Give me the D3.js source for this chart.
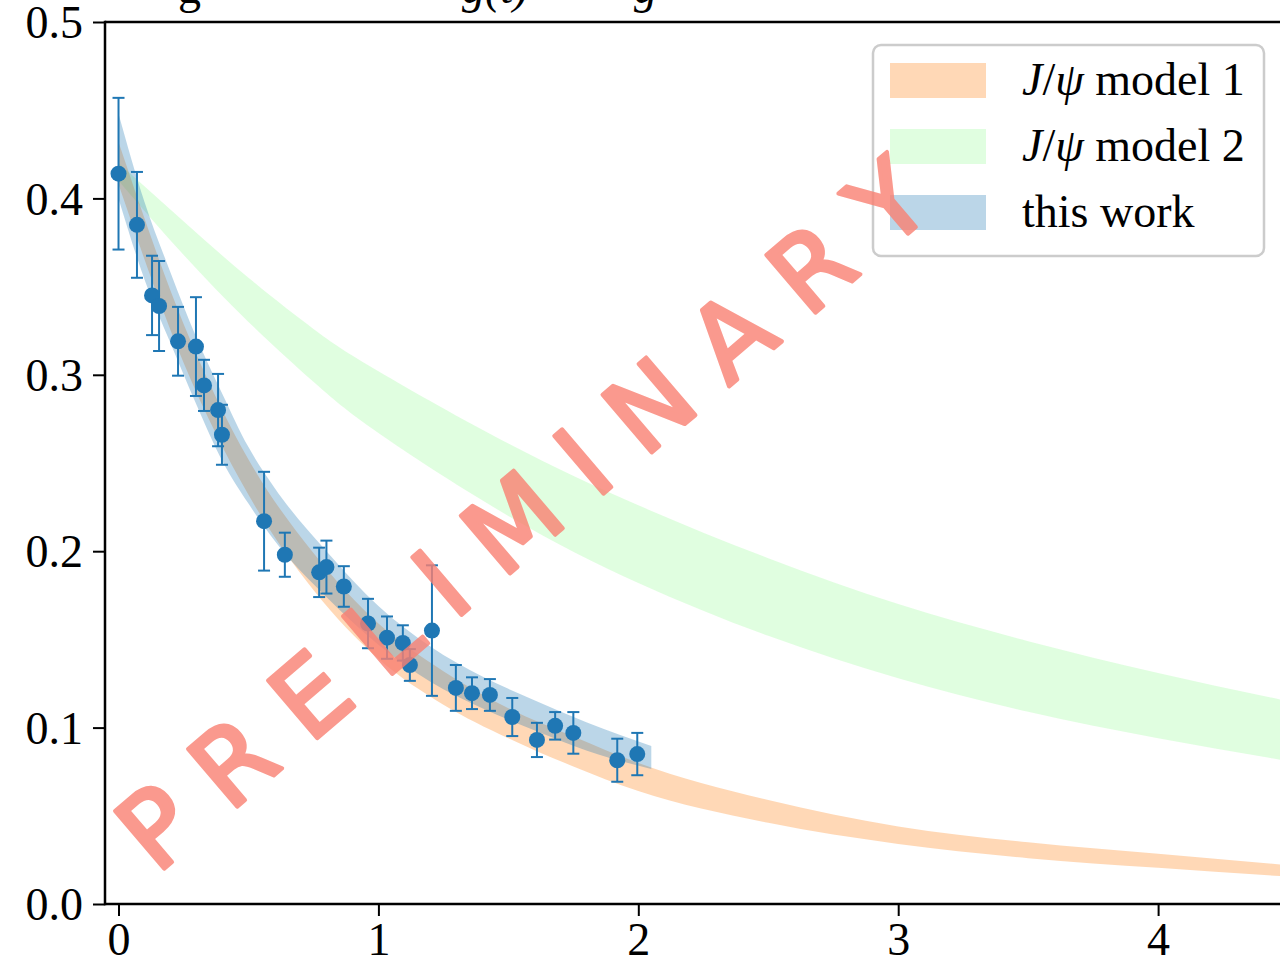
<!DOCTYPE html>
<html>
<head>
<meta charset="utf-8">
<script src="https://cdnjs.cloudflare.com/ajax/libs/d3/7.8.5/d3.min.js"></script>
<style>
  body { margin: 0; background: #fff; }
  svg { display: block; }
  .tick text { font-family: "Liberation Serif", "Times New Roman", serif; font-size: 46px; fill: #000; }
  .leg text { font-family: "Liberation Serif", "Times New Roman", serif; font-size: 46px; fill: #000; }
</style>
</head>
<body>
<svg id="chart" width="1280" height="962"></svg>
<script>
// data points
var ptX = [0.000, 0.071, 0.129, 0.156, 0.229, 0.298, 0.329, 0.383, 0.398, 0.560, 0.640, 0.772, 0.800, 0.867,
           0.960, 1.033, 1.094, 1.121, 1.206, 1.298, 1.360, 1.429, 1.515, 1.610, 1.680, 1.750, 1.919, 1.996];
var ptY = [0.414, 0.385, 0.345, 0.339, 0.319, 0.316, 0.294, 0.280, 0.266, 0.217, 0.198, 0.188, 0.191, 0.180,
           0.159, 0.151, 0.148, 0.1355, 0.155, 0.1225, 0.1195, 0.1185, 0.106, 0.093, 0.101, 0.097, 0.0815, 0.085];
var ptErr = [0.043, 0.030, 0.0225, 0.0255, 0.0195, 0.028, 0.0145, 0.0205, 0.017, 0.028, 0.0125, 0.014, 0.015, 0.0115,
             0.014, 0.012, 0.010, 0.009, 0.037, 0.013, 0.009, 0.009, 0.0108, 0.0097, 0.0078, 0.0118, 0.0122, 0.012];

// bands (lower / upper edge)
var m1X  = [0, 0.25, 0.5, 0.75, 1.0, 1.25, 1.5, 1.75, 2.0, 2.5, 3.0, 3.5, 4.0, 4.5];
var m1Lo = [0.408, 0.307, 0.232, 0.178, 0.139, 0.113, 0.094, 0.078, 0.064, 0.046, 0.034, 0.026, 0.0205, 0.0155];
var m1Hi = [0.432, 0.329, 0.252, 0.199, 0.159, 0.132, 0.111, 0.095, 0.080, 0.059, 0.044, 0.035, 0.0285, 0.022];

var m2X  = [0, 0.25, 0.5, 0.75, 1.0, 1.5, 2.0, 2.5, 3.0, 3.5, 4.0, 4.5];
var m2Lo = [0.410, 0.368, 0.330, 0.296, 0.267, 0.220, 0.182, 0.152, 0.128, 0.109, 0.094, 0.081];
var m2Hi = [0.420, 0.387, 0.355, 0.326, 0.302, 0.261, 0.226, 0.196, 0.170, 0.149, 0.131, 0.115];

var twX  = [0, 0.1, 0.2, 0.3, 0.4, 0.5, 0.6, 0.8, 1.0, 1.2, 1.4, 1.6, 1.8, 2.05];
var twLo = [0.400, 0.354, 0.318, 0.283, 0.251, 0.227, 0.206, 0.174, 0.147, 0.126, 0.111, 0.0985, 0.087, 0.0765];
var twHi = [0.448, 0.398, 0.358, 0.321, 0.289, 0.259, 0.236, 0.200, 0.169, 0.146, 0.129, 0.1155, 0.103, 0.0895];

var xTicks = [0, 1, 2, 3, 4];
var yTicks = [0.0, 0.1, 0.2, 0.3, 0.4, 0.5];
var legendLabels = ["model 1", "model 2", "this work"];

var pLeft = 105, pRight = 1280, pTop = 22, pBottom = 904;

var svg = d3.select("#chart");

var x = d3.scaleLinear().domain([-0.052, 4.469]).range([pLeft, pRight]);
var y = d3.scaleLinear().domain([0, 0.5]).range([pBottom, pTop]);

svg.append("defs").append("clipPath").attr("id", "plotclip")
  .append("rect").attr("x", pLeft).attr("y", pTop).attr("width", pRight - pLeft).attr("height", pBottom - pTop);

// cut-off title, only descenders show
var title = svg.append("g").attr("font-family", "Liberation Serif, serif").attr("font-size", 46);
title.append("text").attr("x", 178).attr("y", 3).text("g");
title.append("text").attr("x", 462).attr("y", 3).attr("font-style", "italic").text("g(t)");
title.append("text").attr("x", 634).attr("y", 3).attr("font-style", "italic").text("g");

var plot = svg.append("g").attr("clip-path", "url(#plotclip)");

function band(xs, lo, hi, curve) {
  var d = xs.map(function(v, i) { return {x: v, lo: lo[i], hi: hi[i]}; });
  return d3.area()
    .curve(curve)
    .x(function(p) { return x(p.x); })
    .y0(function(p) { return y(p.lo); })
    .y1(function(p) { return y(p.hi); })(d);
}

plot.append("path").attr("d", band(m2X, m2Lo, m2Hi, d3.curveNatural)).attr("fill", "palegreen").attr("fill-opacity", 0.3);
plot.append("path").attr("d", band(m1X, m1Lo, m1Hi, d3.curveMonotoneX)).attr("fill", "#ff7f0e").attr("fill-opacity", 0.3);
plot.append("path").attr("d", band(twX, twLo, twHi, d3.curveMonotoneX)).attr("fill", "#1f77b4").attr("fill-opacity", 0.3);

// error bars
var pts = ptX.map(function(v, i) { return {x: v, y: ptY[i], e: ptErr[i]}; });
var eb = plot.append("g").attr("stroke", "#1f77b4").attr("stroke-width", 2);
pts.forEach(function(p) {
  var cx = x(p.x), y1 = y(p.y + p.e), y0 = y(p.y - p.e);
  eb.append("line").attr("x1", cx).attr("x2", cx).attr("y1", y1).attr("y2", y0);
  eb.append("line").attr("x1", cx - 6).attr("x2", cx + 6).attr("y1", y1).attr("y2", y1);
  eb.append("line").attr("x1", cx - 6).attr("x2", cx + 6).attr("y1", y0).attr("y2", y0);
});
plot.append("g").selectAll("circle").data(pts).enter().append("circle")
  .attr("cx", function(d) { return x(d.x); })
  .attr("cy", function(d) { return y(d.y); })
  .attr("r", 8)
  .attr("fill", "#1f77b4");

// axes
var xAxis = svg.append("g").attr("transform", "translate(0," + pBottom + ")")
  .call(d3.axisBottom(x).tickValues(xTicks).tickFormat(d3.format("d")).tickSize(12).tickPadding(6));
var yAxis = svg.append("g").attr("transform", "translate(" + pLeft + ",0)")
  .call(d3.axisLeft(y).tickValues(yTicks).tickFormat(d3.format(".1f")).tickSize(12).tickPadding(10));
[xAxis, yAxis].forEach(function(a) {
  a.select(".domain").remove();
  a.selectAll(".tick line").attr("stroke", "#000").attr("stroke-width", 2);
});
yAxis.selectAll(".tick text").attr("dy", "0.34em");

svg.append("line").attr("x1", pLeft).attr("x2", pRight).attr("y1", pTop).attr("y2", pTop)
  .attr("stroke", "#000").attr("stroke-width", 2.5);
svg.append("line").attr("x1", pLeft).attr("x2", pRight).attr("y1", pBottom).attr("y2", pBottom)
  .attr("stroke", "#000").attr("stroke-width", 2.5);
svg.append("line").attr("x1", pLeft).attr("x2", pLeft).attr("y1", pTop - 1.25).attr("y2", pBottom + 1.25)
  .attr("stroke", "#000").attr("stroke-width", 2.5);

// legend
var leg = svg.append("g").attr("class", "leg");
leg.append("rect").attr("x", 873).attr("y", 45).attr("width", 391).attr("height", 211).attr("rx", 8)
  .attr("fill", "#fff").attr("fill-opacity", 0.8).attr("stroke", "#cccccc").attr("stroke-width", 2.5);
var legColors = ["#ff7f0e", "palegreen", "#1f77b4"];
legendLabels.forEach(function(lab, i) {
  var yy = 63 + i * 66;
  leg.append("rect").attr("x", 890).attr("y", yy).attr("width", 96).attr("height", 35)
    .attr("fill", legColors[i]).attr("fill-opacity", 0.3);
  var t = leg.append("text").attr("x", 1022).attr("y", yy + 32);
  if (i < 2) {
    t.append("tspan").attr("font-style", "italic").text("J");
    t.append("tspan").text("/");
    t.append("tspan").attr("font-style", "italic").text("ψ");
    t.append("tspan").text(" " + lab);
  } else {
    t.text(lab);
  }
});

// watermark (group opacity so stroke and fill don't stack)
svg.append("g").attr("opacity", 0.8)
  .append("text")
  .attr("transform", "translate(522,514) rotate(-40.5)")
  .attr("text-anchor", "middle")
  .attr("dy", "0.36em")
  .attr("font-family", "DejaVu Sans, sans-serif")
  .attr("font-size", 104)
  .attr("fill", "salmon")
  .attr("stroke", "salmon")
  .attr("stroke-width", 4)
  .attr("stroke-linejoin", "round")
  .text("P R E L I M I N A R Y");
</script>
</body>
</html>
